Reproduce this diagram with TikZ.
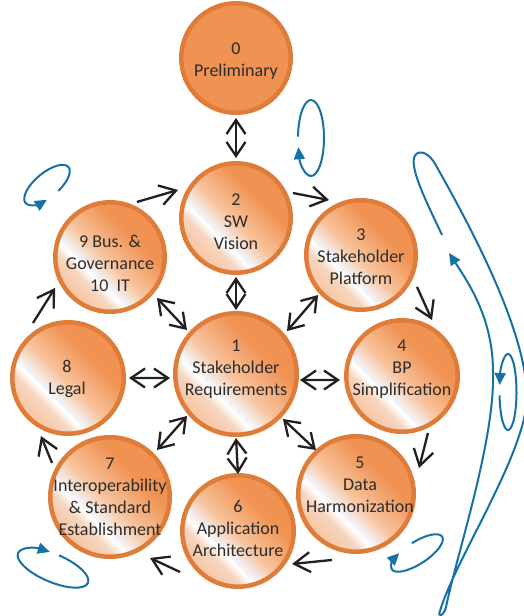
\documentclass[tikz,border=0pt]{standalone}
\usepackage{fontspec}
\setmainfont{Carlito}
\usetikzlibrary{arrows.meta,calc}
\definecolor{ballfill}{RGB}{240,146,82}
\definecolor{ballrim}{RGB}{224,124,58}
\definecolor{ballpale}{RGB}{248,196,158}
\definecolor{ballsoft}{RGB}{246,214,192}
\definecolor{sheen}{RGB}{242,242,245}
\definecolor{ink}{RGB}{35,31,32}
\definecolor{txt}{RGB}{45,45,45}
\definecolor{loopblue}{RGB}{22,114,165}
% glossy orange: full colour towards the upper right, a white sheen low on the left
\pgfdeclarehorizontalshading{gloss}{100bp}{%
  color(0bp)=(ballfill); color(25bp)=(ballfill); color(36bp)=(ballfill);
  color(52bp)=(ballpale); color(60bp)=(sheen); color(62bp)=(white);
  color(66bp)=(ballsoft); color(75bp)=(ballpale); color(100bp)=(ballpale)}
\tikzset{
  ball/.style={circle, draw=ballrim, line width=4.5pt, shade, shading=gloss,
    shading angle=225, minimum size=#1, inner sep=0pt},
  flatball/.style={circle, draw=ballrim, line width=4.5pt, fill=ballfill,
    minimum size=#1, inner sep=0pt},
  lbl/.style={align=center, text=txt, font=\fontsize{18}{22}\selectfont, inner sep=0pt},
  barb/.tip={Straight Barb[length=16pt,width=20pt]},
  shortbarb/.tip={Straight Barb[length=14pt,width=19pt]},
  flow/.style={draw=ink, line width=2.3pt, -barb},
  both/.style={draw=ink, line width=2.3pt, shortbarb-shortbarb},
  cyc/.style={draw=loopblue, line width=2pt, -{Triangle[length=12pt,width=11pt]}}
}
\begin{document}
\begin{tikzpicture}[x=1pt,y=1pt]
\useasboundingbox (0,0) rectangle (523,-616);

% phases
\node[flatball=109.5] (n0) at (236,-58) {};
\node[ball=109.5] (n2) at (236,-218) {};
\node[ball=109.5] (n3) at (361,-255) {};
\node[ball=111.5] (n4) at (402,-376) {};
\node[ball=115.5] (n5) at (356,-494) {};
\node[ball=111.5] (n6) at (238,-531) {};
\node[ball=119.5] (n7) at (110,-497) {};
\node[ball=111.5] (n8) at (68,-378) {};
\node[ball=109.5] (n9) at (110,-257) {};
\node[ball=121.5] (n1) at (236,-374) {};

\node[lbl] (t0) at (236,-61) {0\\Preliminary};
\node[lbl] (t2) at (236,-222) {2\\SW\\Vision};
\node[lbl] (t3) at (361,-257) {3\\Stakeholder\\Platform};
\node[lbl] (t4) at (402,-369) {4\\BP\\Simplification};
\node[lbl] (t5) at (360,-485) {5\\Data\\Harmonization};
\node[lbl] (t6) at (238,-528) {6\\Application\\Architecture};
\node[lbl] (t7) at (110,-497) {7\\Interoperability\\\& Standard\\Establishment};
\node[lbl] (t8) at (67,-379) {8\\Legal};
\node[lbl] (t9) at (110,-263) {9 Bus. \&\\Governance\\10\ \ IT};
\node[lbl] (t1) at (236,-369) {1\\Stakeholder\\Requirements};

% the cycle around the hub
\draw[flow] ($(n2)+(23.7:62.2)$) -- ($(n3)+(120.2:63.6)$);
\draw[flow] ($(n3)+(-29.7:64.5)$) -- ($(n4)+(61.8:63.5)$);
\draw[flow] ($(n4)+(-65.5:62.6)$) -- ($(n5)+(22.4:68.2)$);
\draw[flow] ($(n5)+(-110:70.2)$) -- ($(n6)+(-31.4:63.3)$);
\draw[flow] ($(n6)+(-144.7:71)$) -- ($(n7)+(-56.7:72.9)$);
\draw[flow] ($(n7)+(149.6:67.2)$) -- ($(n8)+(-115:64)$);
\draw[flow] ($(n8)+(122.5:65.2)$) -- ($(n9)+(-150.6:63.1)$);
\draw[flow] ($(n9)+(63.9:61.3)$) -- ($(n2)+(154.2:64.4)$);

% two-way links
\draw[both] ($(n0)+(-90:60)$) -- ($(n2)+(90:60)$);
\draw[both] ($(n2)+(-90:59)$) -- ($(n1)+(90:64)$);
\draw[both] ($(n3)+(-137:58.7)$) -- ($(n1)+(40.1:66.7)$);
\draw[both] ($(n1)+(-5.4:64.3)$) -- ($(n4)+(183.7:62.1)$);
\draw[both] ($(n1)+(-43.8:65)$) -- ($(n5)+(132.3:59.5)$);
\draw[both] ($(n1)+(-90:64)$) -- ($(n6)+(90:57)$);
\draw[both] ($(n1)+(-139.4:64.5)$) -- ($(n7)+(45:66.5)$);
\draw[both] ($(n8)+(0:61)$) -- ($(n1)+(183.5:66.1)$);
\draw[both] ($(n9)+(-41.1:62.4)$) -- ($(n1)+(138.1:65.9)$);

% iteration loops
\coordinate (la) at (311,-138);
\coordinate (lb) at (47,-185);
\coordinate (lc) at (53,-568);
\coordinate (ld) at (417,-553);
\coordinate (le) at (508,-392);

\draw[cyc] ($(la)+(178:13 and 38)$) arc[start angle=178, end angle=-166, x radius=13, y radius=38];
\begin{scope}[shift={(lb)}, rotate=40]
  \draw[cyc] (-80:28 and 12) arc[start angle=-80, end angle=250, x radius=28, y radius=12];
\end{scope}
\begin{scope}[shift={(lc)}, rotate=-23]
  \draw[cyc] (89:38 and 14) arc[start angle=89, end angle=-256, x radius=38, y radius=14];
\end{scope}
\begin{scope}[shift={(ld)}, rotate=33]
  \draw[cyc] (88:30 and 11) arc[start angle=88, end angle=-240, x radius=30, y radius=11];
\end{scope}
\draw[cyc] ($(le)+(185:8.5 and 38)$) arc[start angle=185, end angle=529.4, x radius=8.5, y radius=38];

% long loop along the right-hand side
\draw[cyc] (442,-235) .. controls (428,-205) and (411,-172) .. (414,-158)
  .. controls (416,-150) and (426,-150) .. (434,-162)
  .. controls (468,-222) and (527,-330) .. (527,-398)
  .. controls (525,-455) and (455,-560) .. (440,-611)
  .. controls (437,-618) and (444,-616) .. (446,-607)
  .. controls (458,-550) and (495,-440) .. (493,-372)
  .. controls (493,-320) and (470,-285) .. (449,-253);
\end{tikzpicture}
\end{document}
